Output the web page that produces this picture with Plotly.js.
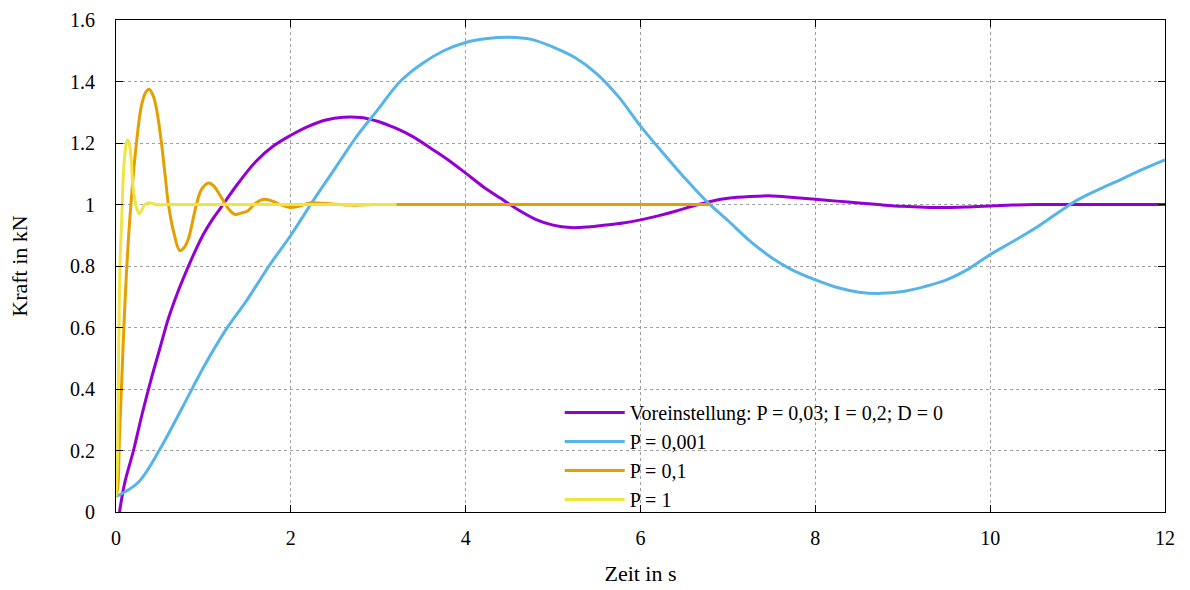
<!DOCTYPE html>
<html>
<head>
<meta charset="utf-8">
<script src="https://cdn.plot.ly/plotly-3.0.1.min.js"></script>
<style>html,body{margin:0;padding:0;background:#fff;} #chart{width:1190px;height:590px;}</style>
</head>
<body>
<div id="chart"></div>
<script>
// Series names
const seriesNames = ["Voreinstellung: P = 0,03; I = 0,2; D = 0", "P = 0,001", "P = 0,1", "P = 1"];

// Voreinstellung
const tPurple = [0.04, 0.1, 0.2, 0.3, 0.4, 0.5, 0.6, 0.7, 0.8, 0.9, 1.0, 1.1, 1.2, 1.4, 1.6, 1.8, 2.0, 2.2, 2.4, 2.6, 2.8, 3.0, 3.2, 3.4, 3.6, 3.8, 4.0, 4.2, 4.4, 4.6, 4.8, 5.0, 5.2, 5.4, 5.6, 5.8, 6.0, 6.2, 6.4, 6.6, 6.8, 7.0, 7.25, 7.5, 7.75, 8.0, 8.25, 8.5, 8.75, 9.0, 9.25, 9.5, 9.75, 10.0, 10.25, 10.5, 11.0, 12.0];
const vPurple = [0.0, 0.095, 0.2, 0.32, 0.43, 0.53, 0.63, 0.71, 0.78, 0.845, 0.903, 0.95, 0.99, 1.07, 1.14, 1.19, 1.225, 1.254, 1.275, 1.284, 1.283, 1.27, 1.248, 1.22, 1.183, 1.145, 1.102, 1.058, 1.02, 0.983, 0.952, 0.933, 0.925, 0.927, 0.933, 0.94, 0.95, 0.963, 0.978, 0.995, 1.01, 1.02, 1.026, 1.028, 1.023, 1.017, 1.011, 1.005, 0.999, 0.994, 0.991, 0.99, 0.992, 0.995, 0.998, 1.0, 1.0, 1.0];

// P = 0,001
const tBlue = [0.0, 0.25, 0.5, 0.75, 1.0, 1.25, 1.5, 1.75, 2.0, 2.25, 2.5, 2.75, 3.0, 3.25, 3.5, 3.75, 4.0, 4.25, 4.5, 4.75, 5.0, 5.25, 5.5, 5.75, 6.0, 6.25, 6.5, 6.75, 7.0, 7.25, 7.5, 7.75, 8.0, 8.25, 8.5, 8.75, 9.0, 9.25, 9.5, 9.75, 10.0, 10.25, 10.5, 10.75, 11.0, 11.25, 11.5, 11.75, 12.0];
const vBlue = [0.05, 0.095, 0.203, 0.335, 0.47, 0.59, 0.69, 0.8, 0.9, 1.01, 1.115, 1.22, 1.31, 1.4, 1.458, 1.5, 1.527, 1.54, 1.544, 1.537, 1.512, 1.478, 1.425, 1.35, 1.255, 1.17, 1.088, 1.012, 0.948, 0.882, 0.827, 0.785, 0.755, 0.73, 0.715, 0.711, 0.717, 0.733, 0.755, 0.79, 0.837, 0.878, 0.92, 0.968, 1.015, 1.05, 1.082, 1.115, 1.145];

// P = 0,1
const tOrange = [0.0, 0.02, 0.04, 0.065, 0.09, 0.12, 0.15, 0.19, 0.23, 0.29, 0.34, 0.38, 0.43, 0.47, 0.52, 0.56, 0.6, 0.66, 0.73, 0.78, 0.83, 0.88, 0.92, 0.98, 1.06, 1.12, 1.19, 1.29, 1.36, 1.43, 1.51, 1.6, 1.69, 1.78, 1.88, 1.99, 2.1, 2.22, 2.4, 2.7, 3.0, 4.0, 5.0, 6.0, 6.8];
const vOrange = [0.05, 0.08, 0.25, 0.42, 0.6, 0.78, 0.92, 1.07, 1.19, 1.32, 1.365, 1.375, 1.35, 1.3, 1.2, 1.1, 1.0, 0.91, 0.85, 0.86, 0.89, 0.95, 1.0, 1.05, 1.07, 1.06, 1.03, 0.985, 0.968, 0.972, 0.98, 1.005, 1.017, 1.012, 1.0, 0.99, 0.995, 1.005, 1.003, 0.998, 1.0, 1.0, 1.0, 1.0, 1.0];

// P = 1
const tYellow = [0.0, 0.015, 0.03, 0.045, 0.065, 0.085, 0.1, 0.12, 0.134, 0.15, 0.17, 0.2, 0.24, 0.27, 0.3, 0.33, 0.38, 0.45, 0.6, 1.0, 2.0, 3.21];
const vYellow = [0.05, 0.15, 0.5, 0.8, 0.95, 1.1, 1.16, 1.2, 1.21, 1.2, 1.16, 1.045, 0.985, 0.97, 0.985, 1.0, 1.006, 1.0, 1.0, 1.0, 1.0, 1.0];

// Axis ticks
const xTicks = [0, 2, 4, 6, 8, 10, 12];
const yTicks = [0, 0.2, 0.4, 0.6, 0.8, 1, 1.2, 1.4, 1.6];
const yTickText = ["0", "0.2", "0.4", "0.6", "0.8", "1", "1.2", "1.4", "1.6"];

const colors = ["#9400d3", "#56b4e9", "#e69f00", "#f0e442"];
const xs = [tPurple, tBlue, tOrange, tYellow];
const ys = [vPurple, vBlue, vOrange, vYellow];

const traces = xs.map((x, i) => ({
  x: x, y: ys[i], type: "scatter", mode: "lines", name: seriesNames[i],
  line: {color: colors[i], width: 3, shape: "spline", smoothing: 1}
}));

const fam = "Liberation Serif, Times New Roman, serif";
const font = {family: fam, size: 20, color: "#000"};
const titleFont = {family: fam, size: 22, color: "#000"};

const layout = {
  width: 1190, height: 590,
  margin: {l: 116, r: 25, t: 20, b: 78},
  paper_bgcolor: "#fff", plot_bgcolor: "#fff",
  font: font,
  showlegend: true,
  legend: {
    x: 0.423, y: -0.014, xanchor: "left", yanchor: "bottom",
    bgcolor: "rgba(255,255,255,0)", font: font, itemwidth: 60,
    tracegroupgap: 0
  },
  xaxis: {
    range: [0, 12], tickvals: xTicks, ticktext: xTicks.map(String),
    showgrid: true, gridcolor: "#a0a0a0", griddash: "dot", gridwidth: 1,
    zeroline: false, showline: true, linecolor: "#000", linewidth: 1, mirror: "allticks",
    ticks: "inside", ticklen: 7, tickcolor: "#000", tickwidth: 1,
    ticklabelstandoff: 8, tickfont: font,
    title: {text: "Zeit in s", font: titleFont, standoff: 17},
    automargin: false
  },
  yaxis: {
    range: [0, 1.6], tickvals: yTicks, ticktext: yTickText,
    showgrid: true, gridcolor: "#a0a0a0", griddash: "dot", gridwidth: 1,
    zeroline: false, showline: true, linecolor: "#000", linewidth: 1, mirror: "allticks",
    ticks: "inside", ticklen: 7, tickcolor: "#000", tickwidth: 1,
    ticklabelstandoff: 16, tickfont: font,
    title: {text: "Kraft in kN", font: titleFont, standoff: 36},
    automargin: false
  }
};

Plotly.newPlot("chart", traces, layout, {displayModeBar: false, staticPlot: true});
</script>
</body>
</html>
